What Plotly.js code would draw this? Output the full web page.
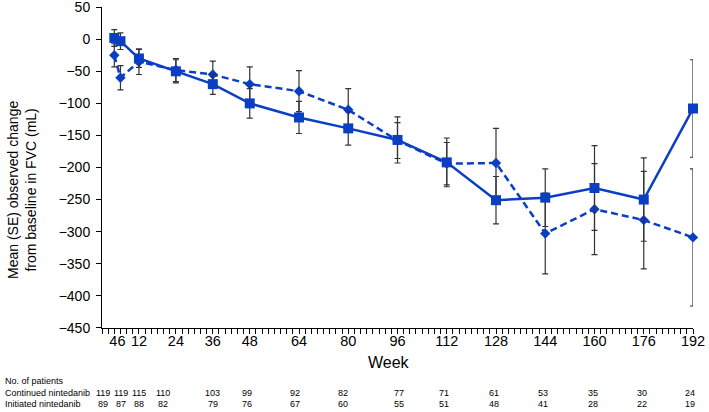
<!DOCTYPE html>
<html>
<head>
<meta charset="utf-8">
<script src="https://cdn.plot.ly/plotly-3.0.1.min.js"></script>
<style>html,body{margin:0;padding:0;background:#fff;}#chart{width:709px;height:412px;}</style>
</head>
<body>
<div id="chart"></div>
<script>
// ---- data ----
const weeks = [4, 6, 12, 24, 36, 48, 64, 80, 96, 112, 128, 144, 160, 176, 192];
const continuedMean = [2, -3, -30, -50, -70, -100, -122, -139, -157, -192, -251, -247, -232, -250, -108];
const continuedSE = [13, 13, 14, 18, 16, 23, 25, 26, 36, 38, 37, 45, 66, 65, 76];
const initiatedMean = [-25, -60, -35, -48, -55, -70, -81, -110, -158, -194, -193, -303, -265, -282, -309];
const initiatedSE = [18, 19, 20, 18, 21, 27, 32, 33, 28, 33, 54, 63, 71, 76, 107];
const continuedN = [119, 119, 115, 110, 103, 99, 92, 82, 77, 71, 61, 53, 35, 30, 24];
const initiatedN = [89, 87, 88, 82, 79, 76, 67, 60, 55, 51, 48, 41, 28, 22, 19];
// weeks 4 and 6 share one label, centred between them
const xTickVals = [5, 12, 24, 36, 48, 64, 80, 96, 112, 128, 144, 160, 176, 192];
const xTickText = ['46', '12', '24', '36', '48', '64', '80', '96', '112', '128', '144', '160', '176', '192'];
const yTickVals = [50, 0, -50, -100, -150, -200, -250, -300, -350, -400, -450];
const rowLabels = ['No. of patients', 'Continued nintedanib', 'Initiated nintedanib'];

// ---- style ----
const blue = '#0a3fc4';
const errColor = '#333333';
const font = 'Liberation Sans, Arial, sans-serif';
const colShift = [-11, 1, 0, -13, 0, -3, -4, -5, 1, -3, -2, -2, -2, -2, -3];

const traces = [
  {
    x: weeks, y: initiatedMean, type: 'scatter', mode: 'lines+markers',
    line: {color: blue, width: 2.5, dash: '7px,4px'},
    marker: {symbol: 'diamond', size: 8, color: blue},
    error_y: {type: 'data', array: initiatedSE, symmetric: true, color: errColor, thickness: 1.2, width: 3},
    cliponaxis: false, hoverinfo: 'skip'
  },
  {
    x: weeks, y: continuedMean, type: 'scatter', mode: 'lines+markers',
    line: {color: blue, width: 2.5},
    marker: {symbol: 'square', size: 10, color: blue},
    error_y: {type: 'data', array: continuedSE, symmetric: true, color: errColor, thickness: 1.2, width: 3},
    cliponaxis: false, hoverinfo: 'skip'
  }
];

const plotTop = 7, plotBottom = 328, plotLeft = 102, plotRight = 693;
const H = 412, W = 709;
const ph = plotBottom - plotTop, pw = plotRight - plotLeft;
function py(pix) { return (plotBottom - pix) / ph; }
function px(pix) { return (pix - plotLeft) / pw; }

const annotations = [];
annotations.push({
  xref: 'paper', yref: 'paper', x: px(22), y: py(190),
  text: 'Mean (SE) observed change<br>from baseline in FVC (mL)',
  textangle: -90, showarrow: false, xanchor: 'center', yanchor: 'middle',
  font: {family: font, size: 14, color: '#000'}
});
annotations.push({
  xref: 'paper', yref: 'paper', x: px(389), y: py(362),
  text: 'Week', showarrow: false, xanchor: 'center', yanchor: 'middle',
  font: {family: font, size: 16, color: '#000'}
});
const rowY = [381, 393, 404];
rowLabels.forEach((t, i) => {
  annotations.push({
    xref: 'paper', yref: 'paper', x: px(3), y: py(rowY[i]), text: t,
    showarrow: false, xanchor: 'left', yanchor: 'middle',
    font: {family: font, size: 9, color: '#000'}
  });
});
weeks.forEach((w, i) => {
  annotations.push({
    xref: 'x', yref: 'paper', x: w, y: py(rowY[1]), text: String(continuedN[i]),
    xshift: colShift[i], showarrow: false, xanchor: 'center', yanchor: 'middle',
    font: {family: font, size: 9, color: '#000'}
  });
  annotations.push({
    xref: 'x', yref: 'paper', x: w, y: py(rowY[2]), text: String(initiatedN[i]),
    xshift: colShift[i], showarrow: false, xanchor: 'center', yanchor: 'middle',
    font: {family: font, size: 9, color: '#000'}
  });
});

const layout = {
  width: W, height: H,
  margin: {l: plotLeft, r: W - plotRight, t: plotTop, b: H - plotBottom},
  paper_bgcolor: '#fff', plot_bgcolor: '#fff',
  showlegend: false,
  font: {family: font, color: '#000'},
  xaxis: {
    range: [0, 192], tickmode: 'array', tickvals: xTickVals, ticktext: xTickText, tickangle: 0,
    ticks: 'outside', ticklen: 5, tickcolor: 'rgba(0,0,0,0)', tickwidth: 1, automargin: false,
    ticklabeloverflow: 'allow', ticklabelstandoff: -5,
    showline: true, linecolor: '#000', linewidth: 1, showgrid: false, zeroline: false,
    tickfont: {family: font, size: 14.5, color: '#000'},
    minor: {tickmode: 'linear', tick0: 0, dtick: 2, ticks: 'outside', ticklen: 5, tickcolor: '#000', tickwidth: 1, showgrid: false}
  },
  yaxis: {
    range: [-450.3, 50.3], tickmode: 'array', tickvals: yTickVals,
    ticks: 'outside', ticklen: 5, tickcolor: '#000', tickwidth: 1, automargin: false,
    ticklabeloverflow: 'allow', ticklabelstandoff: 3,
    showline: true, linecolor: '#000', linewidth: 1, showgrid: false, zeroline: false,
    tickfont: {family: font, size: 14, color: '#000'}
  },
  annotations: annotations
};

Plotly.newPlot('chart', traces, layout, {displayModeBar: false, staticPlot: true});
</script>
</body>
</html>
